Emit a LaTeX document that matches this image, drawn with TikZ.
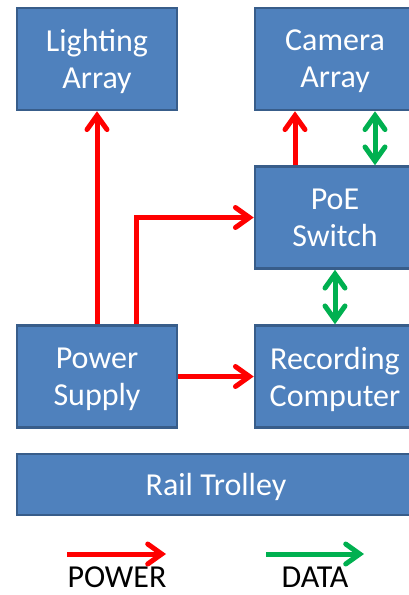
\documentclass[tikz,border=0pt]{standalone}
\usepackage{fontspec}
\setmainfont{Carlito}
\usetikzlibrary{positioning, arrows.meta, calc}

\definecolor{boxblue}{HTML}{4F81BD}
\definecolor{boxedge}{HTML}{385D8A}
\definecolor{pwrred}{HTML}{FF0000}
\definecolor{datagreen}{HTML}{00B050}

\begin{document}
\begin{tikzpicture}[
    x=1pt, y=-1pt,
    blockbox/.style={draw=boxedge, line width=2.5pt, fill=boxblue, rectangle, minimum width=160pt, minimum height=102pt, align=center, text=white, font=\fontsize{32}{37}\selectfont, inner sep=0pt, text depth=0pt},
    legendtxt/.style={font=\fontsize{32}{37}\selectfont, text=black, inner sep=0pt},
    pwr/.style={-{Straight Barb[length=14pt, width=20pt, line cap=round]}, line width=5pt, pwrred},
    data/.style={{Straight Barb[length=14pt, width=20pt, line cap=round]}-{Straight Barb[length=14pt, width=20pt, line cap=round]}, line width=5pt, datagreen}
]

% fixed frame, the right column runs off the edge
\useasboundingbox (0,0) rectangle (409,595);
\begin{scope}
\clip (0,0) rectangle (409,595);

% Blocks
\node[blockbox] (light) at (97,59) {Lighting\\Array};
\node[blockbox] (cam) at (335,59) {Camera\\Array};
\node[blockbox] (poe) at (335,217.5) {PoE\\Switch};
\node[blockbox] (psu) at (97,376.5) {Power\\Supply};
\node[blockbox] (rec) at (335,376.5) {Recording\\Computer};
\node[blockbox, minimum width=398pt, minimum height=61pt] (trolley) at (216,484.5) {Rail Trolley};

% Power lines
\draw[pwr] (psu.north) -- (light.south);
\draw[pwr] ($(psu.north)+(39,0)$) |- (poe.west);
\draw[pwr] (psu.east) -- (rec.west);
\draw[pwr] ($(poe.north)+(-40,0)$) -- ($(cam.south)+(-40,0)$);

% Data lines
\draw[data] ($(poe.north)+(40,0)$) -- ($(cam.south)+(40,0)$);
\draw[data] (poe.south) -- (rec.north);
\end{scope}

% Legend
\coordinate (pwr_a) at (67,554);
\coordinate (pwr_b) at (166,554);
\coordinate (data_a) at (266,554);
\coordinate (data_b) at (364,554);
\draw[pwr] (pwr_a) -- (pwr_b);
\draw[-{Straight Barb[length=14pt, width=20pt, line cap=round]}, line width=5pt, datagreen] (data_a) -- (data_b);
\node[legendtxt] (pwr_lbl) at (117,577) {POWER};
\node[legendtxt] (data_lbl) at (315,577) {DATA};

\end{tikzpicture}
\end{document}
